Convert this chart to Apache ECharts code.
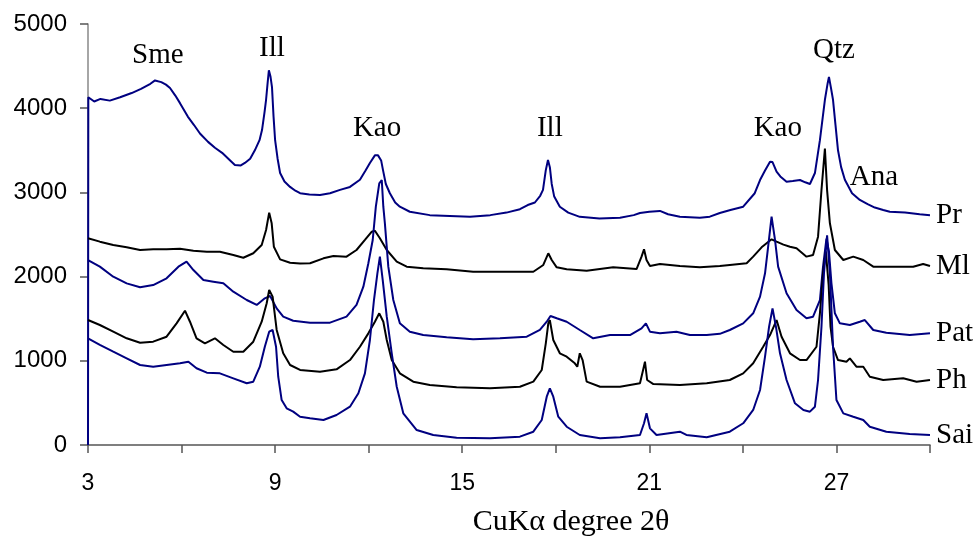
<!DOCTYPE html>
<html>
<head>
<meta charset="utf-8">
<script src="https://cdn.jsdelivr.net/npm/echarts@6/dist/echarts.min.js"></script>
<style>
html,body{margin:0;padding:0;background:#fff;}
#chart{width:978px;height:543px;}
</style>
</head>
<body>
<div id="chart"></div>
<script>
// ---- data (2θ, intensity) ----
var prData = [[3.0,0],[3.01,4130],[3.2,4080],[3.4,4110],[3.7,4090],[4.03,4130],[4.4,4180],[4.7,4230],[5.0,4290],[5.15,4330],[5.35,4310],[5.5,4280],[5.63,4240],[5.8,4150],[5.95,4060],[6.2,3900],[6.4,3800],[6.59,3700],[6.85,3600],[7.07,3530],[7.3,3470],[7.5,3400],[7.71,3325],[7.9,3320],[8.03,3350],[8.2,3400],[8.35,3500],[8.5,3620],[8.58,3740],[8.66,3950],[8.71,4100],[8.76,4300],[8.80,4450],[8.85,4380],[8.90,4250],[8.95,3900],[9.0,3620],[9.08,3400],[9.16,3230],[9.3,3130],[9.48,3065],[9.65,3020],[9.80,2990],[10.1,2975],[10.44,2970],[10.76,2990],[11.08,3030],[11.40,3065],[11.72,3150],[11.9,3260],[12.04,3350],[12.20,3440],[12.30,3440],[12.40,3380],[12.46,3265],[12.55,3100],[12.68,2990],[12.85,2880],[13.0,2830],[13.32,2770],[13.96,2730],[14.6,2720],[15.25,2710],[15.9,2730],[16.42,2760],[16.85,2800],[17.1,2850],[17.33,2880],[17.5,2960],[17.59,3030],[17.68,3265],[17.75,3385],[17.81,3300],[17.87,3100],[17.95,2950],[18.13,2830],[18.4,2760],[18.77,2710],[19.4,2690],[20.06,2700],[20.5,2730],[20.70,2755],[21.0,2770],[21.34,2780],[21.6,2740],[21.98,2710],[22.62,2700],[22.94,2712],[23.26,2755],[23.6,2790],[24.01,2830],[24.38,2990],[24.55,3147],[24.71,3260],[24.87,3365],[24.95,3360],[25.08,3246],[25.2,3190],[25.40,3127],[25.6,3135],[25.83,3147],[26.0,3120],[26.15,3100],[26.31,3230],[26.47,3620],[26.58,3950],[26.63,4100],[26.72,4300],[26.76,4370],[26.82,4250],[26.89,4100],[26.97,3800],[27.05,3500],[27.15,3300],[27.27,3150],[27.5,2990],[27.75,2910],[28.0,2860],[28.23,2820],[28.5,2790],[28.71,2770],[29.2,2760],[29.67,2740],[30.0,2730]];

var mlData = [[3.0,2455],[3.38,2415],[3.81,2375],[4.24,2348],[4.67,2316],[5.09,2324],[5.52,2324],[5.95,2332],[6.38,2308],[6.81,2296],[7.23,2296],[7.66,2256],[7.98,2224],[8.30,2277],[8.57,2375],[8.71,2553],[8.81,2759],[8.89,2633],[8.96,2355],[9.16,2205],[9.48,2165],[9.80,2155],[10.12,2158],[10.55,2217],[10.87,2245],[11.29,2237],[11.61,2316],[11.88,2435],[12.10,2533],[12.20,2545],[12.36,2455],[12.58,2316],[12.90,2177],[13.22,2118],[13.75,2098],[14.50,2087],[15.35,2058],[16.42,2058],[17.28,2058],[17.60,2138],[17.76,2277],[17.87,2197],[18.03,2110],[18.35,2087],[18.99,2070],[19.84,2110],[20.59,2090],[20.75,2237],[20.83,2324],[20.91,2197],[21.02,2126],[21.34,2150],[21.98,2126],[22.62,2110],[23.26,2126],[23.58,2138],[24.12,2158],[24.33,2237],[24.60,2348],[24.92,2443],[25.08,2415],[25.3,2380],[25.51,2355],[25.72,2336],[26.04,2237],[26.25,2256],[26.41,2474],[26.52,3028],[26.63,3520],[26.70,3028],[26.79,2633],[26.95,2316],[27.22,2197],[27.54,2237],[27.86,2197],[28.18,2118],[28.82,2118],[29.46,2118],[29.78,2150],[30.0,2126]];

var patData = [[3.0,2197],[3.38,2118],[3.81,1999],[4.24,1920],[4.67,1873],[5.09,1900],[5.52,1980],[5.90,2118],[6.16,2177],[6.38,2078],[6.70,1960],[7.02,1940],[7.34,1920],[7.66,1821],[8.09,1722],[8.41,1663],[8.67,1742],[8.84,1770],[9.05,1623],[9.26,1524],[9.58,1476],[10.12,1453],[10.76,1453],[11.29,1524],[11.61,1663],[11.83,1880],[11.99,2158],[12.13,2435],[12.23,2830],[12.34,3108],[12.42,3147],[12.47,2830],[12.52,2633],[12.63,2118],[12.79,1722],[13.0,1445],[13.32,1346],[13.75,1306],[14.50,1279],[15.35,1255],[16.21,1267],[17.07,1286],[17.49,1366],[17.71,1464],[17.83,1532],[18.03,1505],[18.35,1464],[18.77,1366],[19.20,1267],[19.74,1306],[20.38,1306],[20.75,1386],[20.89,1445],[21.02,1346],[21.34,1326],[21.87,1346],[22.30,1306],[22.84,1306],[23.26,1320],[23.58,1366],[24.01,1445],[24.33,1564],[24.55,1762],[24.71,2039],[24.81,2355],[24.92,2712],[25.03,2435],[25.13,2118],[25.40,1802],[25.72,1603],[26.04,1505],[26.25,1524],[26.47,1722],[26.57,2118],[26.68,2450],[26.76,2300],[26.84,1920],[26.95,1564],[27.11,1445],[27.43,1425],[27.75,1464],[27.91,1484],[28.18,1366],[28.60,1334],[29.35,1306],[30.0,1326]];

var phData = [[3.0,1484],[3.38,1425],[3.81,1346],[4.24,1267],[4.67,1215],[5.09,1227],[5.52,1286],[5.84,1445],[6.11,1595],[6.27,1464],[6.48,1267],[6.75,1208],[7.07,1267],[7.34,1188],[7.66,1108],[7.98,1108],[8.30,1227],[8.57,1464],[8.73,1683],[8.81,1841],[8.92,1762],[9.05,1366],[9.26,1089],[9.48,950],[9.80,891],[10.44,871],[10.97,899],[11.40,1009],[11.72,1167],[11.99,1326],[12.20,1464],[12.34,1564],[12.47,1464],[12.58,1247],[12.74,1009],[13.0,851],[13.43,752],[13.96,713],[14.82,685],[15.89,673],[16.85,692],[17.28,752],[17.55,891],[17.68,1208],[17.76,1445],[17.81,1484],[17.92,1247],[18.13,1089],[18.35,1049],[18.61,970],[18.69,930],[18.77,1089],[18.86,1009],[18.99,752],[19.42,692],[20.06,692],[20.70,733],[20.80,891],[20.86,989],[20.93,772],[21.13,724],[21.98,713],[22.84,733],[23.58,772],[24.01,851],[24.33,970],[24.65,1167],[24.87,1306],[25.08,1484],[25.24,1286],[25.51,1089],[25.83,1009],[26.04,1009],[26.36,1167],[26.47,1564],[26.57,2040],[26.66,2300],[26.75,1900],[26.81,1405],[26.89,1167],[27.05,1009],[27.32,989],[27.43,1029],[27.64,930],[27.86,930],[28.07,811],[28.50,772],[29.14,792],[29.57,752],[30.0,772]];

var saiData = [[3.0,1267],[3.38,1188],[3.81,1108],[4.24,1029],[4.67,950],[5.09,930],[5.52,950],[5.95,970],[6.22,989],[6.48,911],[6.81,859],[7.23,851],[7.66,792],[8.09,733],[8.30,752],[8.51,930],[8.67,1167],[8.81,1346],[8.92,1366],[9.03,1167],[9.10,811],[9.21,534],[9.37,436],[9.58,396],[9.80,336],[10.12,317],[10.55,297],[10.97,356],[11.40,455],[11.67,614],[11.88,851],[12.04,1247],[12.17,1722],[12.28,2039],[12.36,2237],[12.45,1960],[12.58,1524],[12.74,1089],[12.90,692],[13.11,376],[13.54,178],[14.07,119],[14.82,87],[15.89,80],[16.85,99],[17.28,158],[17.55,297],[17.71,574],[17.81,673],[17.92,574],[18.08,336],[18.35,217],[18.77,119],[19.42,80],[20.06,91],[20.70,119],[20.83,258],[20.91,376],[21.02,198],[21.23,119],[21.98,158],[22.19,119],[22.84,91],[23.58,158],[24.01,258],[24.33,416],[24.55,653],[24.71,1049],[24.84,1405],[24.95,1623],[25.06,1405],[25.19,1089],[25.40,772],[25.67,495],[25.94,416],[26.15,396],[26.31,455],[26.41,772],[26.52,1405],[26.60,2039],[26.70,2490],[26.79,2039],[26.89,1167],[27.0,534],[27.22,376],[27.54,336],[27.86,297],[28.07,217],[28.60,158],[29.35,131],[30.0,119]];

var seriesNames = ['Pr','Ml','Pat','Ph','Sai'];
var seriesColors = ['#000080','#000000','#000080','#000000','#000080'];
var seriesValues = [prData, mlData, patData, phData, saiData];

// peak annotations (text, 2θ, intensity position)
var peakText = ['Sme','Ill','Kao','Ill','Kao','Qtz','Ana'];
var peakX    = [5.24, 8.90, 12.27, 17.81, 25.12, 26.92, 28.20];
var peakY    = [4632, 4715, 3765, 3765, 3765, 4691, 3183];

var xTicks = {min: 3, max: 30, interval: 3};
var yTicks = {min: 0, max: 5000, interval: 1000};

var chart = echarts.init(document.getElementById('chart'), null, {renderer: 'canvas'});
var serif = '"Liberation Serif", "Times New Roman", serif';
var sans = '"Liberation Sans", Arial, sans-serif';

var series = seriesNames.map(function (n, i) {
  return {
    name: n,
    type: 'line',
    data: seriesValues[i],
    showSymbol: false,
    symbol: 'none',
    lineStyle: {color: seriesColors[i], width: 2},
    itemStyle: {color: seriesColors[i]},
    endLabel: {
      show: true,
      formatter: '{a}',
      distance: 6,
      color: '#000',
      fontFamily: serif,
      fontSize: 29
    },
    animation: false
  };
});

chart.setOption({
  animation: false,
  backgroundColor: '#fff',
  grid: {left: 88, right: 48, top: 24, bottom: 98, containLabel: false},
  xAxis: {
    type: 'value',
    min: xTicks.min, max: xTicks.max, interval: xTicks.interval,
    axisLine: {show: true, lineStyle: {color: '#555', width: 1.5}},
    axisTick: {show: true, inside: false, length: 8, lineStyle: {color: '#555', width: 1.5}},
    splitLine: {show: false},
    axisLabel: {
      margin: 27,
      color: '#000',
      fontFamily: sans,
      fontSize: 23,
      formatter: function (v) { return ((v - 3) % 6 === 0) ? String(v) : ''; }
    }
  },
  yAxis: {
    type: 'value',
    min: yTicks.min, max: yTicks.max, interval: yTicks.interval,
    axisLine: {show: true, lineStyle: {color: '#888', width: 1.5}},
    axisTick: {show: true, inside: false, length: 8, lineStyle: {color: '#555', width: 1.5}},
    splitLine: {show: false},
    axisLabel: {
      margin: 21, color: '#000', fontFamily: sans, fontSize: 24,
      formatter: function (v) { return String(v); }
    }
  },
  series: series
});

var g = peakText.map(function (t, i) {
  var p = chart.convertToPixel({gridIndex: 0}, [peakX[i], peakY[i]]);
  return {
    type: 'text', x: p[0], y: p[1], z: 10,
    style: {text: t, fill: '#000', font: '29px ' + serif, textAlign: 'center', textVerticalAlign: 'middle'}
  };
});
g.push({
  type: 'text', x: 571, y: 522, z: 10,
  style: {text: 'CuKα degree 2θ', fill: '#000', font: '30px ' + serif, textAlign: 'center', textVerticalAlign: 'middle'}
});
chart.setOption({graphic: g});
</script>
</body>
</html>
